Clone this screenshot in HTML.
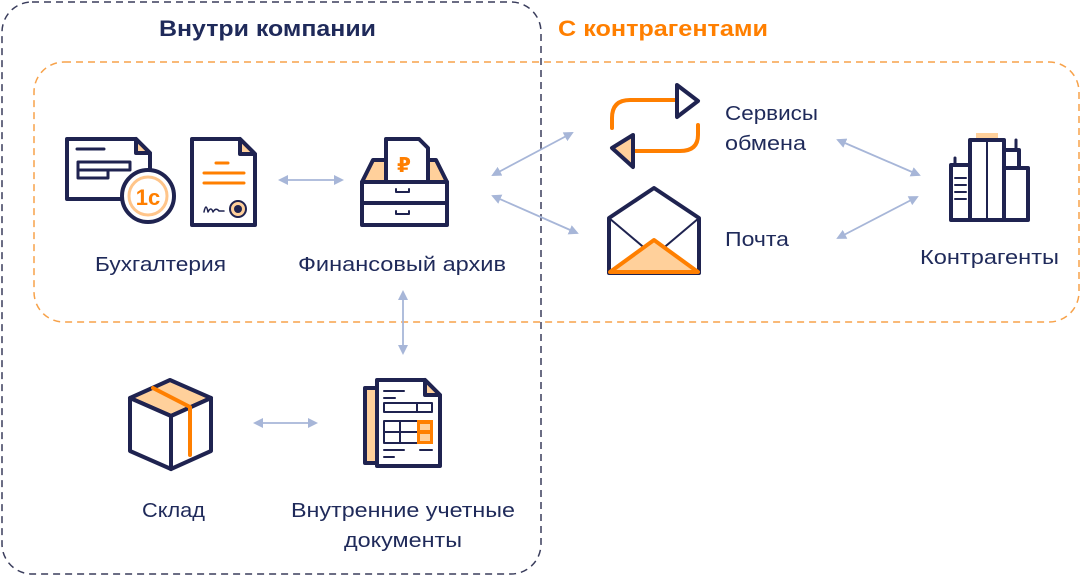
<!DOCTYPE html>
<html><head><meta charset="utf-8"><style>
body{margin:0;background:#fff;width:1082px;height:576px;overflow:hidden}
text{font-family:"Liberation Sans","DejaVu Sans",sans-serif}
</style></head><body>
<svg width="1082" height="576" viewBox="0 0 1082 576" xmlns="http://www.w3.org/2000/svg">
<defs>
<marker id="a" markerWidth="10" markerHeight="10" refX="8" refY="5" orient="auto-start-reverse" markerUnits="userSpaceOnUse"><path d="M0,0 L10,5 L0,10 z" fill="#a7b6d8"/></marker>
</defs>
<rect x="2" y="2" width="539" height="572" rx="30" fill="none" stroke="#3a3d5c" stroke-width="1.5" stroke-dasharray="7,5"/>
<rect x="34" y="62" width="1045" height="260" rx="30" fill="none" stroke="#f7a24a" stroke-width="1.5" stroke-dasharray="7,5"/>
<text x="159" y="36" textLength="217" lengthAdjust="spacingAndGlyphs" font-size="22" font-weight="bold" fill="#1f2a5a">Внутри компании</text>
<text x="558" y="36" textLength="210" lengthAdjust="spacingAndGlyphs" font-size="22" font-weight="bold" fill="#ff7f00">С контрагентами</text>
<g font-size="20" fill="#1f2a5a">
<text x="95" y="271" textLength="131" lengthAdjust="spacingAndGlyphs">Бухгалтерия</text>
<text x="298" y="271" textLength="208" lengthAdjust="spacingAndGlyphs">Финансовый архив</text>
<text x="725" y="120" textLength="93" lengthAdjust="spacingAndGlyphs">Сервисы</text>
<text x="725" y="150" textLength="81" lengthAdjust="spacingAndGlyphs">обмена</text>
<text x="725" y="246" textLength="64" lengthAdjust="spacingAndGlyphs">Почта</text>
<text x="920" y="264" textLength="139" lengthAdjust="spacingAndGlyphs">Контрагенты</text>
<text x="142" y="517" textLength="63" lengthAdjust="spacingAndGlyphs">Склад</text>
<text x="291" y="517" textLength="224" lengthAdjust="spacingAndGlyphs">Внутренние учетные</text>
<text x="344" y="547" textLength="118" lengthAdjust="spacingAndGlyphs">документы</text>
</g>
<g stroke="#a7b6d8" stroke-width="1.8" fill="none" marker-start="url(#a)" marker-end="url(#a)">
<line x1="280" y1="180" x2="342" y2="180"/>
<line x1="493" y1="175" x2="572" y2="133"/>
<line x1="493" y1="196" x2="577" y2="233"/>
<line x1="838" y1="140" x2="919" y2="175"/>
<line x1="838" y1="238" x2="917" y2="197"/>
<line x1="403" y1="292" x2="403" y2="353"/>
<line x1="255" y1="423" x2="316" y2="423"/>
</g>
<g stroke="#1f2350" stroke-width="4" fill="#fff" stroke-linejoin="round" stroke-linecap="round">
<path d="M67,139 H136 L150,153 V199 H67 Z"/>
<path d="M136,139 V153 H150 Z" fill="#ffd09b"/>
<line x1="77" y1="149" x2="104" y2="149" stroke-width="3"/>
<rect x="78" y="162" width="52" height="8" stroke-width="3"/>
<rect x="78" y="170" width="30" height="8" stroke-width="3"/>
<circle cx="148" cy="196" r="26"/>
<circle cx="148" cy="196" r="19" fill="#fff" stroke="#ffc58a" stroke-width="3"/>
<text x="148" y="205" text-anchor="middle" font-size="22" font-weight="bold" fill="#ff7f00" stroke="none">1с</text>
<path d="M192,139 H240 L255,154 V225 H192 Z"/>
<path d="M240,139 V154 H255 Z" fill="#ffd09b"/>
<g stroke="#ff7f00" stroke-width="3"><line x1="216" y1="163" x2="228" y2="163"/><line x1="204" y1="173" x2="244" y2="173"/><line x1="204" y1="183" x2="244" y2="183"/></g>
<path d="M204,212 q2,-10 4,0 q3,-6 5,0 q3,-5 6,-1 h5" stroke-width="1.5" fill="none"/>
<circle cx="238" cy="209" r="8" fill="#ffd09b" stroke-width="2"/>
<circle cx="238" cy="209" r="4" fill="#1f2350" stroke="none"/>
<path d="M362,182 L373,160 H436 L447,182 Z" fill="#ffd09b"/>
<path d="M386,139 H419 L428,148 V182 H386 Z"/>
<text x="404" y="172" text-anchor="middle" font-size="20" font-weight="bold" fill="#ff7f00" stroke="none">₽</text>
<rect x="362" y="182" width="85" height="21"/>
<rect x="362" y="203" width="85" height="22"/>
<path d="M396,189 v3 h13 v-3 M396,211 v3 h13 v-3" stroke-width="2" fill="none"/>
<path d="M612,128 V118 Q612,100 630,100 H677" stroke="#ff7f00" fill="none"/>
<path d="M677,85 L698,101 L677,117 Z"/>
<path d="M698,125 V135 Q698,151 680,151 H633" stroke="#ff7f00" fill="none"/>
<path d="M633,135 L612,148 L633,167 Z" fill="#ffd09b"/>
<path d="M609,218 L654,188 L699,218 V273 H609 Z"/>
<path d="M609,218 L654,256 L699,218" stroke-width="2" fill="none"/>
<path d="M610,272 L654,240 L698,272 Z" fill="#ffd09b" stroke="#ff7f00"/>
<rect x="976" y="133" width="22" height="6" fill="#ffd09b" stroke="none"/>
<rect x="970" y="140" width="34" height="80"/>
<line x1="987" y1="140" x2="987" y2="220" stroke-width="2"/>
<rect x="951" y="165" width="19" height="55"/>
<line x1="955" y1="158" x2="955" y2="165" stroke-width="3"/>
<rect x="1004" y="150" width="15" height="20"/>
<line x1="1016" y1="140" x2="1016" y2="150" stroke-width="3"/>
<rect x="1004" y="168" width="24" height="52"/>
<g stroke-width="2"><line x1="955" y1="178" x2="966" y2="178"/><line x1="955" y1="185" x2="966" y2="185"/><line x1="955" y1="192" x2="966" y2="192"/><line x1="955" y1="199" x2="966" y2="199"/></g>
<path d="M130,398 L170,380 L211,398 L171,416 Z" fill="#ffd09b"/>
<path d="M130,398 V451 L171,469 V416 Z"/>
<path d="M211,398 V451 L171,469 V416 Z"/>
<path d="M153,388 L190,407 V455" stroke="#ff7f00" fill="none"/>
<rect x="365" y="388" width="12" height="75" fill="#ffd09b"/>
<path d="M377,380 H425 L440,395 V466 H377 Z"/>
<path d="M425,380 V395 H440 Z" fill="#ffd09b"/>
<g stroke-width="2" fill="none"><line x1="384" y1="391" x2="404" y2="391"/><line x1="384" y1="398" x2="395" y2="398"/><rect x="384" y="403" width="48" height="9"/><line x1="417" y1="403" x2="417" y2="412"/><rect x="384" y="421" width="48" height="22"/><line x1="400" y1="421" x2="400" y2="443"/><line x1="384" y1="432" x2="417" y2="432"/><line x1="384" y1="450" x2="404" y2="450"/><line x1="420" y1="450" x2="432" y2="450"/><line x1="384" y1="457" x2="394" y2="457"/></g>
<rect x="417" y="420" width="16" height="24" fill="#ff7f00" stroke="none"/>
<rect x="420" y="424" width="10" height="6" fill="#ffd09b" stroke="none"/>
<rect x="420" y="434" width="10" height="7" fill="#ffd09b" stroke="none"/>
</g>
</svg>
</body></html>
